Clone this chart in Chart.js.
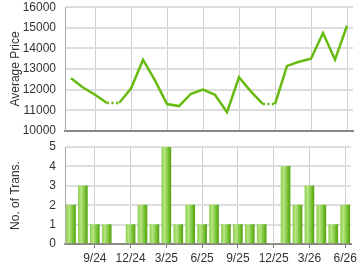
<!DOCTYPE html>
<html>
<head>
<meta charset="utf-8">
<script src="https://cdn.jsdelivr.net/npm/chart.js@4.4.1/dist/chart.umd.min.js"></script>
<style>
  body { margin: 0; background: #fff; }
  #top { position: relative; width: 360px; height: 138px; }
  #bottom { position: relative; width: 360px; height: 132px; }
</style>
</head>
<body>
<div id="top"><canvas id="priceChart"></canvas></div>
<div id="bottom"><canvas id="transChart"></canvas></div>
<script>
const months = ['7/24','8/24','9/24','10/24','11/24','12/24','1/25','2/25','3/25','4/25','5/25','6/25',
                '7/25','8/25','9/25','10/25','11/25','12/25','1/26','2/26','3/26','4/26','5/26','6/26'];
// months with no deals carry the previous price and get a dotted segment
const avgPrice = [12550, 12100, 11750, 11350, 11350, 12050, 13450, 12450, 11300, 11200, 11800, 12000,
                  11750, 10900, 12600, 11900, 11300, 11300, 13150, 13350, 13500, 14750, 13450, 15100];
const transCount = [2, 3, 1, 1, 0, 1, 2, 1, 5, 1, 2, 1, 2, 1, 1, 1, 1, 0, 4, 2, 3, 2, 1, 2];
const priceTicks = [10000, 16000, 1000];
const countTicks = [0, 5, 1];

const fontFamily = '"Liberation Sans", Arial, sans-serif';
const textColor = '#333';
const green = '#66bb0e';

Chart.defaults.font.family = fontFamily;
Chart.defaults.font.size = 12;
Chart.defaults.color = textColor;
Chart.defaults.animation = false;

function showTick(i) {
    return i % 3 === 2;
}

function yAxis(title, range) {
    return {
        min: range[0],
        max: range[1],
        afterFit: function (scale) { scale.width = 65; },
        ticks: {
            stepSize: range[2],
            padding: 0,
            color: textColor,
            callback: v => String(v)
        },
        grid: { color: '#dedede', lineWidth: 2, drawTicks: true, tickLength: 9, tickColor: 'rgba(0,0,0,0)' },
        border: { color: '#aaa', width: 1 },
        title: { display: true, text: title, color: textColor, font: { size: 12 }, padding: { top: 8, bottom: 0 } }
    };
}

new Chart(document.getElementById('priceChart').getContext('2d'), {
    type: 'line',
    data: {
        labels: months,
        datasets: [{
            data: avgPrice,
            borderColor: green,
            borderWidth: 2.5,
            pointRadius: 0,
            tension: 0,
            segment: {
                borderDash: ctx => transCount[ctx.p1DataIndex] === 0 ? [2, 2.5] : undefined
            }
        }]
    },
    options: {
        responsive: true,
        maintainAspectRatio: false,
        layout: { padding: { top: 0, right: 7, left: 0, bottom: 0 } },
        plugins: { legend: { display: false }, tooltip: { enabled: false } },
        scales: {
            x: {
                offset: true,
                ticks: { display: false },
                grid: {
                    offset: false,
                    drawTicks: false,
                    color: ctx => showTick(ctx.index) ? '#cfcfcf' : 'rgba(0,0,0,0)'
                },
                border: { color: '#888', width: 2 }
            },
            y: yAxis('Average Price', priceTicks)
        }
    }
});

new Chart(document.getElementById('transChart').getContext('2d'), {
    type: 'bar',
    data: {
        labels: months,
        datasets: [{
            data: transCount,
            barThickness: 9,
            backgroundColor: function (context) {
                const chart = context.chart;
                const x = chart.scales.x;
                if (!x || !chart.chartArea) return '#8ccc4c';
                const cx = x.getPixelForValue(context.dataIndex);
                const g = chart.ctx.createLinearGradient(cx - 4.5, 0, cx + 4.5, 0);
                g.addColorStop(0, '#8fd04e');
                g.addColorStop(0.3, '#b6e585');
                g.addColorStop(0.7, '#7cc437');
                g.addColorStop(1, '#55a312');
                return g;
            }
        }]
    },
    options: {
        responsive: true,
        maintainAspectRatio: false,
        layout: { padding: { top: 9, right: 7, left: 0, bottom: 4 } },
        plugins: { legend: { display: false }, tooltip: { enabled: false } },
        scales: {
            x: {
                offset: true,
                afterFit: function (scale) { scale.height = 22; },
                ticks: {
                    autoSkip: false,
                    maxRotation: 0,
                    padding: 3,
                    color: textColor,
                    callback: function (value, index) { return showTick(index) ? months[index] : ''; }
                },
                grid: {
                    offset: false,
                    tickLength: 4,
                    color: ctx => showTick(ctx.index) ? '#cfcfcf' : 'rgba(0,0,0,0)',
                    tickColor: ctx => showTick(ctx.index) ? '#777' : 'rgba(0,0,0,0)'
                },
                border: { color: '#888', width: 2 }
            },
            y: yAxis('No. of Trans.', countTicks)
        }
    }
});
</script>
</body>
</html>
